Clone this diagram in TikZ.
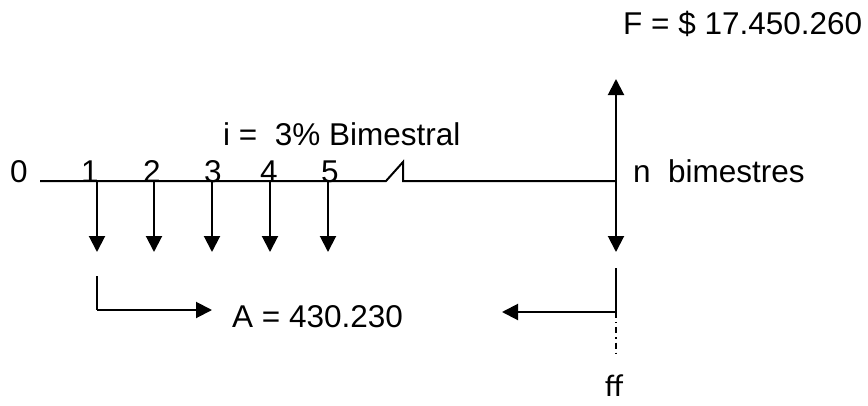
\documentclass[tikz,border=0pt]{standalone}
\usepackage{fontspec}
\setmainfont{Liberation Sans}
\newfontfamily\ffont{Carlito}
\usetikzlibrary{arrows.meta}
\begin{document}
\begin{tikzpicture}[x=1pt,y=-1pt,
  lbl/.style={inner sep=0pt,anchor=base west,font=\fontsize{31.5}{36}\selectfont},
  num/.style={inner sep=0pt,anchor=base,font=\fontsize{31.5}{36}\selectfont},
  ln/.style={line width=2pt},
  arr/.style={ln,-{Triangle[length=16pt,width=16pt]}}]
\useasboundingbox (0,0) rectangle (868,405);
% timeline coordinates
\coordinate (s) at (40,181);
\coordinate (b1) at (386,181);
\coordinate (b2) at (403,162);
\coordinate (b3) at (403,181);
\coordinate (e) at (616,181);
\draw[ln] (s) -- (b1) -- (b2) -- (b3) -- (e);
% period labels
\node[num] (n0) at (19,182) {0};
\node[num] (n1) at (90,182) {1};
\node[num] (n2) at (152,182) {2};
\node[num] (n3) at (213,182) {3};
\node[num] (n4) at (269,182) {4};
\node[num] (n5) at (330,182) {5};
% payment arrows
\foreach \i/\x in {1/97,2/154,3/212,4/270,5/328}{
  \coordinate (p\i) at (\x,181);
  \coordinate (q\i) at (\x,252);
  \draw[arr] (p\i) -- (q\i);
}
% future value arrow
\coordinate (ftip) at (616,79);
\coordinate (fdn) at (616,252);
\draw[arr] (e) -- (ftip);
\draw[arr] (e) -- (fdn);
% bracket left
\coordinate (l1) at (97,276);
\coordinate (l2) at (97,310);
\coordinate (l3) at (212,310);
\draw[ln] (l1) -- (l2);
\draw[arr] (l2) -- (l3);
% bracket right
\coordinate (r1) at (616,268);
\coordinate (r2) at (616,312);
\coordinate (r3) at (502,312);
\coordinate (r4) at (616,355);
\draw[ln] (r1) -- (r2);
\draw[arr] (r2) -- (r3);
\draw[line width=1.3pt,dash pattern=on 6pt off 4pt on 1.3pt off 4pt] (r2) -- (r4);
% texts
\node[lbl] (F) at (623,34) {F = \$ 17.450.260};
\node[lbl] (i) at (223,145) {i =\ \ 3\% Bimestral};
\node[lbl] (n) at (633,182) {n\ \ bimestres};
\node[lbl] (A) at (232,327) {A = 430.230};
\node[lbl,font=\fontsize{31.5}{36}\ffont] (ff) at (605,396) {ff};
\end{tikzpicture}
\end{document}
